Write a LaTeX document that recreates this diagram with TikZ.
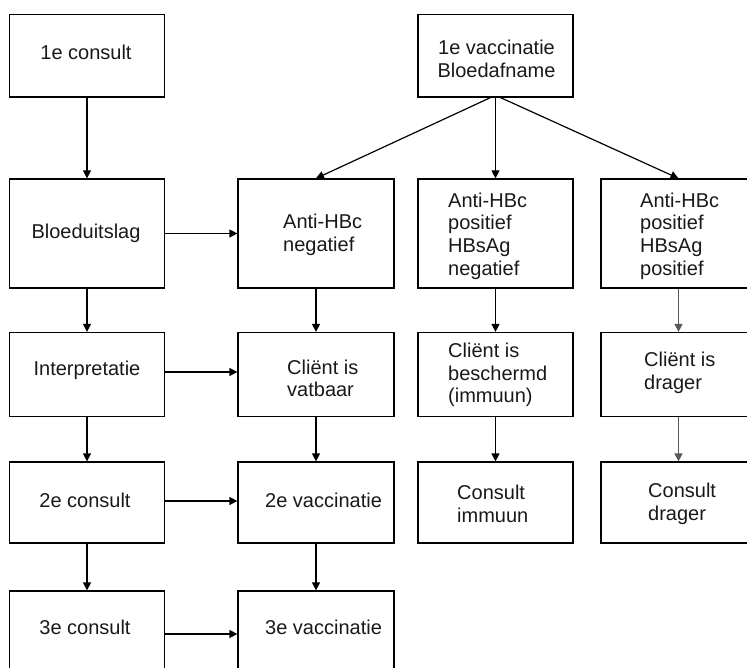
\documentclass[tikz,border=0pt]{standalone}
\usepackage{fontspec}
\setmainfont{Liberation Sans}
\usetikzlibrary{arrows.meta}
\tikzset{
  box/.style={draw=black, line width=1.2pt, inner sep=0pt, minimum width=155pt},
  r0/.style={minimum height=82.5pt},
  r1/.style={minimum height=109pt},
  r2/.style={minimum height=84pt},
  r3/.style={minimum height=81pt},
  txt/.style={font=\fontsize{20}{22.7}\selectfont, align=left, inner sep=0pt, text=black!90},
  ctxt/.style={font=\fontsize{20}{22.7}\selectfont, align=center, inner sep=0pt, text=black!90},
  arr/.style={line width=1.2pt, -{Triangle[length=8pt,width=8pt]}},
  garr/.style={line width=0.9pt, draw=black!65, -{Triangle[length=8pt,width=8pt]}}
}
\begin{document}
\begin{tikzpicture}[x=1pt,y=-1pt]
\useasboundingbox (0,0) rectangle (747,668);
\clip (0,0) rectangle (747,668);
% column 1
\node[box,r0] (a0) at (87,55.75) {};
\node[box,r1] (a1) at (87,233.5) {};
\node[box,r2] (a2) at (87,374.5) {};
\node[box,r3] (a3) at (87,502.5) {};
\node[box,r3] (a4) at (87,631.5) {};
% column 2
\node[box,r1,minimum width=156pt] (b1) at (316,233.5) {};
\node[box,r2,minimum width=156pt] (b2) at (316,374.5) {};
\node[box,r3,minimum width=156pt] (b3) at (316,502.5) {};
\node[box,r3,minimum width=156pt] (b4) at (316,631.5) {};
% column 3
\node[box,r0] (c0) at (495.5,55.75) {};
\node[box,r1] (c1) at (495.5,233.5) {};
\node[box,r2] (c2) at (495.5,374.5) {};
\node[box,r3] (c3) at (495.5,502.5) {};
% column 4
\node[box,r1] (d1) at (678.5,233.5) {};
\node[box,r2] (d2) at (678.5,374.5) {};
\node[box,r3] (d3) at (678.5,502.5) {};

% texts
\node[ctxt] (ta0) at (86,52) {1e consult};
\node[ctxt] (ta1) at (86,233) {Bloeduitslag};
\node[ctxt] (ta2) at (87,370) {Interpretatie};
\node[ctxt] (ta3) at (85,500) {2e consult};
\node[ctxt] (ta4) at (85,627) {3e consult};
\node[txt,anchor=west] (tb1) at (283,234.5) {Anti-HBc\\negatief};
\node[txt,anchor=west] (tb2) at (287,378.5) {Cliënt is\\vatbaar};
\node[txt,anchor=west] (tb3) at (265,500) {2e vaccinatie};
\node[txt,anchor=west] (tb4) at (265,627) {3e vaccinatie};
\node[ctxt] (tc0) at (496.5,59) {1e vaccinatie\\Bloedafname};
\node[txt,anchor=west] (tc1) at (448,236) {Anti-HBc\\positief\\HBsAg\\negatief};
\node[txt,anchor=west] (tc2) at (448,375) {Cliënt is\\beschermd\\(immuun)};
\node[txt,anchor=west] (tc3) at (457,503.5) {Consult\\immuun};
\node[txt,anchor=west] (td1) at (640,236) {Anti-HBc\\positief\\HBsAg\\positief};
\node[txt,anchor=west] (td2) at (644,372.5) {Cliënt is\\drager};
\node[txt,anchor=west] (td3) at (648,503.5) {Consult\\drager};

% arrows column 1
\draw[arr] (a0) -- (a1);
\draw[arr] (a1) -- (a2);
\draw[arr] (a2) -- (a3);
\draw[arr] (a3) -- (a4);
% horizontal
\draw[arr] (a1.east) -- (b1.west);
\draw[arr] ([yshift=2.5pt]a2.east) -- ([yshift=2.5pt]b2.west);
\draw[arr] ([yshift=1.5pt]a3.east) -- ([yshift=1.5pt]b3.west);
\draw[arr] ([yshift=-2.5pt]a4.east) -- ([yshift=-2.5pt]b4.west);
% column 2
\draw[arr] (b1) -- (b2);
\draw[arr] (b2) -- (b3);
\draw[arr] (b3) -- (b4);
% from 1e vaccinatie
\draw[arr] ([xshift=-5pt]c0.south) -- (b1.north);
\draw[arr] (c0) -- (c1);
\draw[arr] ([xshift=5pt]c0.south) -- (d1.north);
% column 3
\draw[arr] (c1) -- (c2);
\draw[arr] (c2) -- (c3);
% column 4
\draw[garr] (d1) -- (d2);
\draw[garr] (d2) -- (d3);
\end{tikzpicture}
\end{document}
